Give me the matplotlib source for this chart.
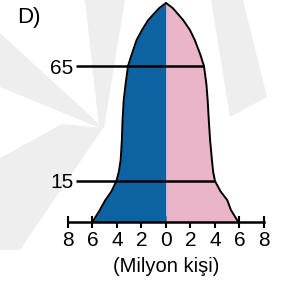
import matplotlib
matplotlib.use('Agg')
import matplotlib.pyplot as plt
from matplotlib.patches import Polygon

plt.rcParams['font.family'] = ['Liberation Sans', 'DejaVu Sans']

# Population pyramid profile (age vs. population in millions)
ages = [92.4, 90.2, 85.0, 80.7, 76.3, 70.0, 65.0, 57.0, 50.2, 41.0, 32.8, 24.1, 19.0, 15.0, 10.5, 6.7, 2.4, -2.8]
male = [0.0, 0.55, 1.45, 1.95, 2.4, 2.8, 3.1, 3.3, 3.45, 3.55, 3.6, 3.7, 3.85, 4.05, 4.45, 4.95, 5.4, 6.0]
female = [0.0, 0.55, 1.4, 1.95, 2.35, 2.8, 3.1, 3.3, 3.4, 3.5, 3.6, 3.75, 3.85, 4.0, 4.45, 5.0, 5.3, 5.9]

x_ticks = [-8, -6, -4, -2, 0, 2, 4, 6, 8]
x_tick_labels = ['8', '6', '4', '2', '0', '2', '4', '6', '8']
ref_ages = [15, 65]
ref_labels = ['15', '65']

BLUE = '#0d62a2'
PINK = '#eab5c9'

W, H = 288, 291
fig = plt.figure(figsize=(W / 100, H / 100), dpi=100)
fig.patch.set_facecolor('white')

# faint watermark in background
def px_poly(pts, color='#eeeeee'):
    pts_f = [(x / W, 1 - y / H) for x, y in pts]
    fig.add_artist(Polygon(pts_f, closed=True, transform=fig.transFigure,
                           facecolor=color, edgecolor='none', zorder=0))

px_poly([(85, 0), (125, 0), (104, 128), (99, 128)])
px_poly([(0, 33), (0, 87), (100, 128), (96, 121)])
px_poly([(62, 124), (103, 128), (20, 250), (0, 250), (0, 158)])
px_poly([(211, 0), (243, 0), (267, 97), (230, 117)])

ax = fig.add_axes([0, 0, 1, 1])
ax.patch.set_alpha(0)
ax.set_zorder(1)
ax.set_xlim(-13.55, 9.96)
ax.set_ylim(-32.83, 93.70)

neg_male = [-v for v in male]
ax.fill_betweenx(ages, neg_male, 0, color=BLUE, lw=0, zorder=2)
ax.fill_betweenx(ages, 0, female, color=PINK, lw=0, zorder=2)
ax.plot(neg_male, ages, color='black', lw=1.4, zorder=3, solid_capstyle='round')
ax.plot(female, ages, color='black', lw=1.4, zorder=3, solid_capstyle='round')

left_x = -7.35
for a in ref_ages:
    right = female[ages.index(float(a))]
    ax.hlines(a, left_x, right, color='black', lw=1.8, zorder=4)

for s in ['top', 'right']:
    ax.spines[s].set_visible(False)
ax.spines['left'].set_position(('data', left_x))
ax.spines['left'].set_visible(False)
ax.spines['bottom'].set_position(('data', -2.8))
ax.spines['bottom'].set_bounds(-8, 8)
ax.spines['bottom'].set_linewidth(1.8)
ax.spines['bottom'].set_zorder(5)

ax.set_xticks(x_ticks, x_tick_labels)
ax.tick_params(axis='x', direction='inout', length=8.5, width=1.5, labelsize=15, pad=2)
ax.set_yticks(ref_ages, ref_labels)
ax.tick_params(axis='y', length=0, labelsize=15, pad=2)

fig.text(17 / W, 1 - 17 / H, 'D)', fontsize=16, ha='left', va='center')
fig.text(166 / W, 1 - 266 / H, '(Milyon kişi)', fontsize=14.5, ha='center', va='center')

fig.savefig('out.png', dpi=100)
